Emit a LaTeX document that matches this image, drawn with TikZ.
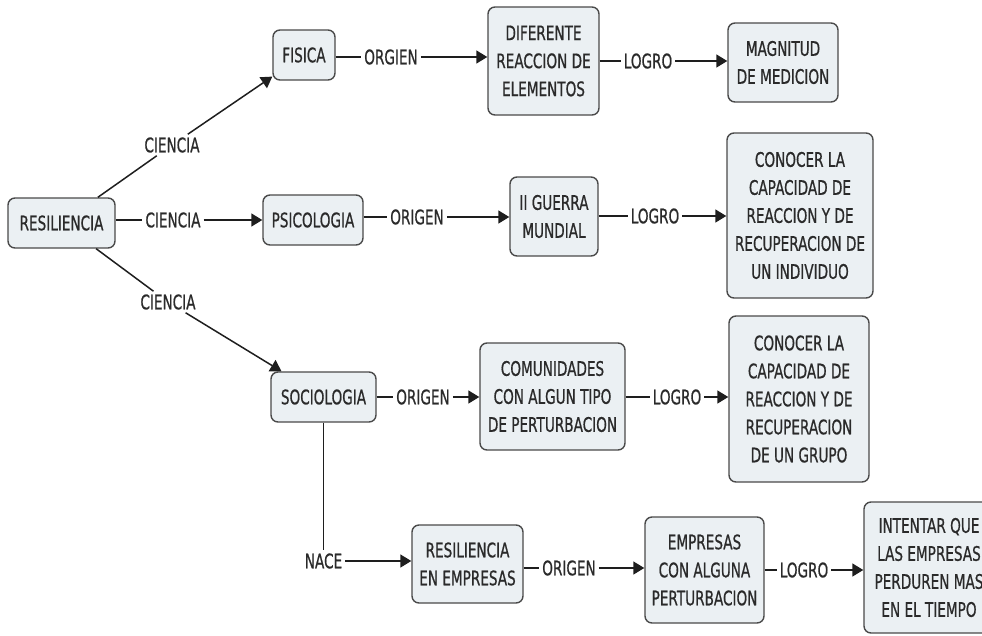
\documentclass[tikz,border=0pt]{standalone}
\usepackage{fontspec}
\setmainfont{DejaVu Sans}[FakeStretch=0.68, FakeBold=0.7]
\usetikzlibrary{arrows.meta}
\definecolor{boxfill}{HTML}{EBF0F3}
\definecolor{boxline}{HTML}{4A4A4A}
\definecolor{inkgray}{HTML}{2A2A2A}
\definecolor{wire}{HTML}{1E1E1E}
\tikzset{
  concept/.style={draw=boxline, fill=boxfill, line width=1.4pt, rounded corners=7pt,
    align=center, inner sep=1pt, text=inkgray,
    font=\fontsize{20}{28}\selectfont},
  linkword/.style={inner sep=3pt, text=inkgray, font=\fontsize{20}{28}\selectfont},
  wireline/.style={draw=wire, line width=1.5pt},
  wirearrow/.style={draw=wire, line width=1.5pt, -{Triangle[length=11pt,width=13pt]}}
}
\begin{document}
\begin{tikzpicture}[x=1pt, y=-1pt]
\useasboundingbox (0,0) rectangle (982,635);
\clip (0,0) rectangle (982,635);

% concepts
\node[concept, minimum width=107pt, minimum height=50pt] (res) at (61.5,223) {RESILIENCIA};
\node[concept, minimum width=62pt, minimum height=50pt] (fis) at (304,55) {FISICA};
\node[concept, minimum width=100pt, minimum height=50pt] (psi) at (313,220) {PSICOLOGIA};
\node[concept, minimum width=105pt, minimum height=50pt] (soc) at (323.5,397) {SOCIOLOGIA};

\node[concept, minimum width=111pt, minimum height=108pt] (dif) at (543.5,61) {DIFERENTE\\REACCION DE\\ELEMENTOS};
\node[concept, minimum width=110pt, minimum height=79pt] (mag) at (783,62.5) {MAGNITUD\\DE MEDICION};

\node[concept, minimum width=88pt, minimum height=79pt] (gue) at (554,216.5) {II GUERRA\\MUNDIAL};
\node[concept, minimum width=146pt, minimum height=165pt] (ind) at (800,215.5) {CONOCER LA\\CAPACIDAD DE\\REACCION Y DE\\RECUPERACION DE\\UN INDIVIDUO};

\node[concept, minimum width=145pt, minimum height=107pt] (com) at (552.5,396.5) {COMUNIDADES\\CON ALGUN TIPO\\DE PERTURBACION};
\node[concept, minimum width=140pt, minimum height=166pt] (gru) at (799,399) {CONOCER LA\\CAPACIDAD DE\\REACCION Y DE\\RECUPERACION\\DE UN GRUPO};

\node[concept, minimum width=111pt, minimum height=78pt] (rem) at (467.5,564) {RESILIENCIA\\EN EMPRESAS};
\node[concept, minimum width=119pt, minimum height=106pt] (emp) at (704.5,570) {EMPRESAS\\CON ALGUNA\\PERTURBACION};
\node[concept, minimum width=130pt, minimum height=131pt] (int) at (929,567.5) {INTENTAR QUE\\LAS EMPRESAS\\PERDUREN MAS\\EN EL TIEMPO};

% linking words
\node[linkword] (c1) at (172,145) {CIENCIA};
\node[linkword] (c2) at (173,220) {CIENCIA};
\node[linkword] (c3) at (168,302) {CIENCIA};
\node[linkword] (o1) at (391,57) {ORGIEN};
\node[linkword] (l1) at (648,61) {LOGRO};
\node[linkword] (o2) at (417,217) {ORIGEN};
\node[linkword] (l2) at (655,216) {LOGRO};
\node[linkword] (o3) at (423,397) {ORIGEN};
\node[linkword] (l3) at (677,397) {LOGRO};
\node[linkword] (na) at (323.5,561) {NACE};
\node[linkword] (o4) at (569,568) {ORIGEN};
\node[linkword] (l4) at (804,570) {LOGRO};

% connectors
\draw[wireline] (res) -- (c1);
\draw[wirearrow] (c1) -- (fis);
\draw[wireline] (res.east |- c2) -- (c2);
\draw[wirearrow] (c2) -- (c2 -| psi.west);
\draw[wireline] (res) -- (c3);
\draw[wirearrow] (c3) -- (soc);

\draw[wireline] (fis.east |- o1) -- (o1);
\draw[wirearrow] (o1) -- (o1 -| dif.west);
\draw[wireline] (dif.east |- l1) -- (l1);
\draw[wirearrow] (l1) -- (l1 -| mag.west);

\draw[wireline] (psi.east |- o2) -- (o2);
\draw[wirearrow] (o2) -- (o2 -| gue.west);
\draw[wireline] (gue.east |- l2) -- (l2);
\draw[wirearrow] (l2) -- (l2 -| ind.west);

\draw[wireline] (soc.east |- o3) -- (o3);
\draw[wirearrow] (o3) -- (o3 -| com.west);
\draw[wireline] (com.east |- l3) -- (l3);
\draw[wirearrow] (l3) -- (l3 -| gru.west);

\draw[wireline] (soc) -- (na);
\draw[wirearrow] (na) -- (na -| rem.west);
\draw[wireline] (rem.east |- o4) -- (o4);
\draw[wirearrow] (o4) -- (o4 -| emp.west);
\draw[wireline] (emp.east |- l4) -- (l4);
\draw[wirearrow] (l4) -- (l4 -| int.west);
\end{tikzpicture}
\end{document}
